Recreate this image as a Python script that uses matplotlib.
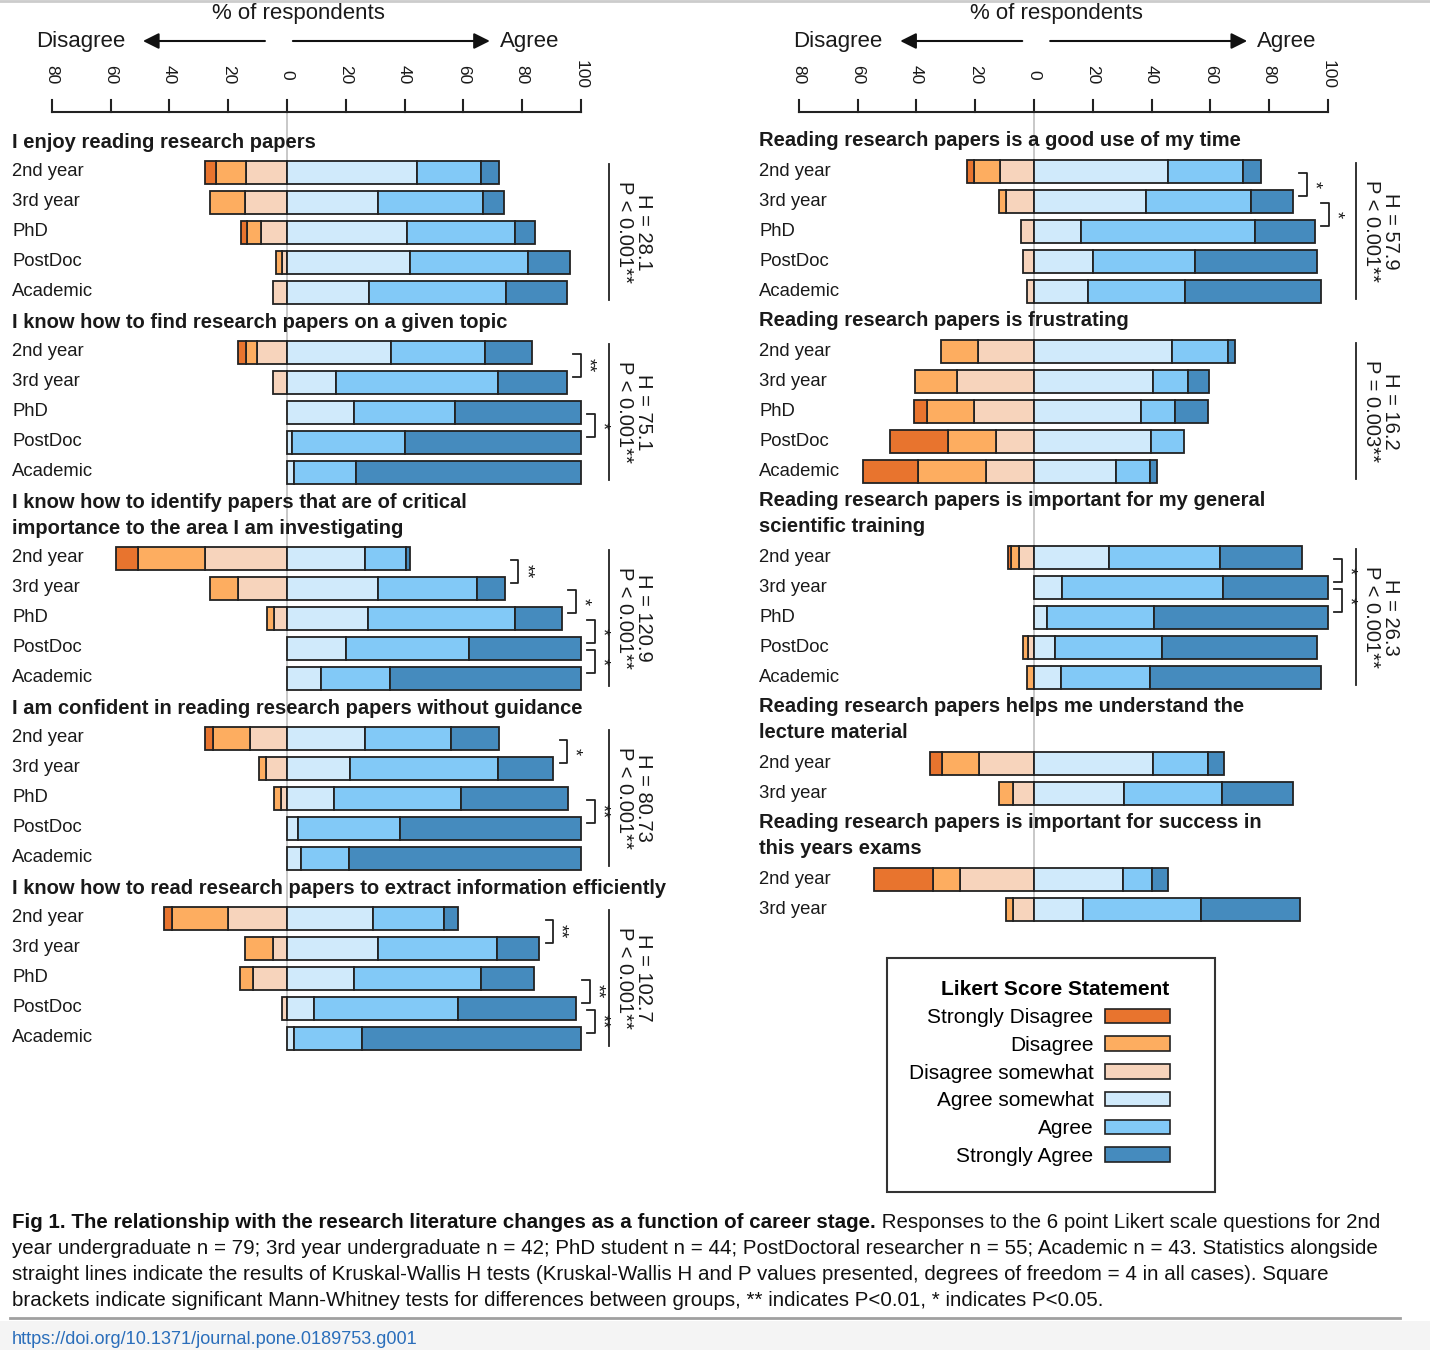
import numpy as np
import matplotlib.pyplot as plt
from matplotlib.patches import Patch, Rectangle
from matplotlib import font_manager

plt.rcParams['font.family'] = ['Liberation Sans', 'DejaVu Sans']

levels = ["Strongly Disagree", "Disagree", "Disagree somewhat",
          "Agree somewhat", "Agree", "Strongly Agree"]
colors = ["#e8742e", "#fdad60", "#f7d4bc", "#d0eafb", "#82c9f7", "#458bbe"]

groups5 = ["2nd year", "3rd year", "PhD", "PostDoc", "Academic"]
groups2 = ["2nd year", "3rd year"]

# % of respondents: SD, D, DS, AS, A, SA
enjoy = [[3.9, 10.1, 13.9, 44.3, 21.6, 6.2],
         [0, 12.0, 14.3, 31.0, 35.7, 7.0],
         [2.2, 4.6, 9.0, 40.9, 36.5, 6.8],
         [0, 2.0, 1.7, 41.9, 40.0, 14.4],
         [0, 0, 4.6, 27.8, 46.6, 21.0]]
find = [[2.6, 3.7, 10.3, 35.4, 31.9, 16.1],
        [0, 0, 4.8, 16.6, 55.1, 23.5],
        [0, 0, 0, 22.7, 34.3, 43.0],
        [0, 0, 0, 1.8, 38.2, 60.0],
        [0, 0, 0, 2.3, 21.0, 76.7]]
identify = [[7.7, 22.8, 27.8, 26.6, 13.8, 1.5],
            [0, 9.6, 16.6, 31.0, 33.5, 9.5],
            [0, 2.2, 4.5, 27.4, 50.2, 15.9],
            [0, 0, 0, 20.0, 42.0, 38.0],
            [0, 0, 0, 11.7, 23.2, 65.1]]
confident = [[2.7, 12.6, 12.7, 26.6, 29.1, 16.3],
             [0, 2.4, 7.1, 21.5, 50.1, 18.9],
             [0, 2.3, 2.2, 16.0, 43.1, 36.4],
             [0, 0, 0, 3.7, 34.6, 61.7],
             [0, 0, 0, 4.8, 16.2, 79.0]]
extract = [[2.6, 19.0, 20.1, 29.1, 24.2, 5.0],
           [0, 9.6, 4.6, 31.0, 40.5, 14.3],
           [0, 4.5, 11.4, 22.8, 43.1, 18.2],
           [0, 0, 1.7, 9.2, 49.1, 40.0],
           [0, 0, 0, 2.3, 23.3, 74.4]]
good_use = [[2.6, 8.9, 11.4, 45.7, 25.3, 6.1],
            [0, 2.4, 9.5, 38.1, 35.8, 14.2],
            [0, 0, 4.5, 15.9, 59.2, 20.4],
            [0, 0, 3.7, 20.0, 34.6, 41.7],
            [0, 0, 2.3, 18.4, 32.8, 46.5]]
frustrating = [[0, 12.6, 19.0, 46.9, 19.0, 2.5],
               [0, 14.3, 26.3, 40.5, 11.8, 7.1],
               [4.5, 16.0, 20.4, 36.3, 11.5, 11.3],
               [19.9, 16.4, 12.8, 39.9, 11.0, 0],
               [18.7, 23.3, 16.2, 27.8, 11.7, 2.3]]
training = [[1.2, 2.7, 5.0, 25.4, 38.0, 27.7],
            [0, 0, 0, 9.5, 54.8, 35.7],
            [0, 0, 0, 4.5, 36.4, 59.1],
            [0, 1.7, 2.0, 7.2, 36.5, 52.6],
            [0, 2.3, 0, 9.3, 30.2, 58.2]]
lecture = [[4.0, 12.6, 18.8, 40.4, 18.9, 5.3],
           [0, 4.6, 7.3, 30.7, 33.3, 24.1]]
exams = [[20.2, 9.0, 25.2, 30.3, 10.0, 5.3],
         [0, 2.4, 7.1, 16.6, 40.2, 33.7]]

left_titles = ["I enjoy reading research papers",
               "I know how to find research papers on a given topic",
               "I know how to identify papers that are of critical\nimportance to the area I am investigating",
               "I am confident in reading research papers without guidance",
               "I know how to read research papers to extract information efficiently"]
left_data = [enjoy, find, identify, confident, extract]
left_groups = [groups5, groups5, groups5, groups5, groups5]
left_kw = ["H = 28.1\nP < 0.001**", "H = 75.1\nP < 0.001**", "H = 120.9\nP < 0.001**",
           "H = 80.73\nP < 0.001**", "H = 102.7\nP < 0.001**"]
left_mw = [[], [(0, 1, "**"), (2, 3, "*")],
           [(0, 1, "**"), (1, 2, "*"), (2, 3, "*"), (3, 4, "*")],
           [(0, 1, "*"), (2, 3, "**")],
           [(0, 1, "**"), (2, 3, "**"), (3, 4, "**")]]

right_titles = ["Reading research papers is a good use of my time",
                "Reading research papers is frustrating",
                "Reading research papers is important for my general\nscientific training",
                "Reading research papers helps me understand the\nlecture material",
                "Reading research papers is important for success in\nthis years exams"]
right_data = [good_use, frustrating, training, lecture, exams]
right_groups = [groups5, groups5, groups5, groups2, groups2]
right_kw = ["H = 57.9\nP < 0.001**", "H = 16.2\nP = 0.003**", "H = 26.3\nP < 0.001**", None, None]
right_mw = [[(0, 1, "*"), (1, 2, "*")], [], [(0, 1, "*"), (1, 2, "*")], [], []]

W, H = 1430, 1350
PX = 2.94  # pixels per percent
ink = "#1a1a1a"

fig = plt.figure(figsize=(W / 100, H / 100), dpi=100)


def draw_panel(ax, x0, xz, titles, datasets, groups, kws, mws, y_start, hs):
    ax.set_xlim((x0 - xz) / PX, (x0 + W / 2 - xz) / PX)
    ax.set_ylim(H, 0)
    ax.axis("off")

    # header
    ax.text(4 + hs, 13, "% of respondents", ha="center", va="center", fontsize=16, color=ink)
    ax.text(-55 + hs, 41, "Disagree", ha="right", va="center", fontsize=16, color=ink)
    ax.text(72.5 + hs, 41, "Agree", ha="left", va="center", fontsize=16, color=ink)
    arrow = dict(arrowstyle="-|>", mutation_scale=24, lw=1.5, color="#111", shrinkA=0, shrinkB=0)
    ax.annotate("", xy=(-49 + hs, 41), xytext=(-7.5 + hs, 41), arrowprops=arrow)
    ax.annotate("", xy=(69 + hs, 41), xytext=(2 + hs, 41), arrowprops=arrow)

    ticks = np.arange(-80, 101, 20)
    ax.plot([-80, 100], [112, 112], color="#222", lw=1.5)
    for t in ticks:
        ax.plot([t, t], [100, 112], color="#222", lw=1.5)
        ax.text(t, 75, str(abs(t)), rotation=-90, ha="center", va="center", fontsize=12.5, color=ink)

    y = y_start
    last_row = y
    for title, data, grp, kw, mw in zip(titles, datasets, groups, kws, mws):
        lines = title.split("\n")
        for k, line in enumerate(lines):
            ax.text(-93.5, y + 26 * k, line, fontsize=14.5, fontweight="bold",
                    ha="left", va="center", color=ink)
        rows = [y + 26 * (len(lines) - 1) + 30 + 30 * i for i in range(len(grp))]
        for r, lab, vals in zip(rows, grp, data):
            ax.text(-93.5, r, lab, fontsize=13.3, ha="left", va="center", color=ink)
            cum = 0
            for v, c in zip(vals[2::-1], colors[2::-1]):
                if v > 0:
                    ax.barh(r, -v, left=-cum, height=23, color=c, edgecolor="#222", lw=1.3, zorder=2)
                cum += v
            cum = 0
            for v, c in zip(vals[3:], colors[3:]):
                if v > 0:
                    ax.barh(r, v, left=cum, height=23, color=c, edgecolor="#222", lw=1.3, zorder=2)
                cum += v
        if kw:
            ax.plot([109.5, 109.5], [rows[0] - 8, rows[-1] + 8], color="#222", lw=1.3)
            ax.text(118, np.mean(rows), kw, rotation=-90, ha="center", va="center",
                    fontsize=14.5, linespacing=1.0, color=ink)
        for i, j, s in mw:
            xe = max(sum(data[i][3:]), sum(data[j][3:]))
            xa, xb = xe + 2.2, xe + 4.7
            ya, yb = rows[i] + 2, rows[j] - 5
            ax.plot([xa, xb, xb, xa], [ya, ya, yb, yb], color="#222", lw=1.3)
            ax.text(xb + 2.4, (ya + yb) / 2, s, rotation=-90, ha="center", va="center",
                    fontsize=13, color=ink)
        last_row = rows[-1]
        y = rows[-1] + 30
    ax.plot([0, 0], [112, last_row + 12], color="#c4c4c4", lw=1.3, zorder=0)


ax_l = fig.add_axes([0, 0, 0.5, 1])
ax_r = fig.add_axes([0.5, 0, 0.5, 1])
draw_panel(ax_l, 0, 287, left_titles, left_data, left_groups, left_kw, left_mw, 142, 0)
draw_panel(ax_r, W / 2, 1034, right_titles, right_data, right_groups, right_kw, right_mw, 141, 3.5)

# legend
handles = [Patch(facecolor=c, edgecolor="#222", lw=1.2) for c in colors]
fig.add_artist(Rectangle((887 / W, 1 - 1192 / H), (1215 - 887) / W, (1192 - 958) / H,
                         transform=fig.transFigure, fill=False, edgecolor="#333", lw=1.5))
fig.legend(handles, levels, loc="upper right", bbox_to_anchor=(1180 / W, 1 - 970 / H),
           frameon=False, markerfirst=False, title="Likert Score Statement",
           title_fontproperties={"weight": "bold", "size": 15}, fontsize=15,
           handlelength=3.1, handleheight=0.7, handletextpad=0.55, labelspacing=0.42,
           borderpad=0, alignment="right")

# caption
try:
    font_manager.findfont(font_manager.FontProperties(family="Liberation Sans Narrow"),
                          fallback_to_default=False)
    cap_font = ["Liberation Sans Narrow", "DejaVu Sans"]
except Exception:
    cap_font = ["Liberation Sans", "DejaVu Sans"]

cap_bold = "Fig 1. The relationship with the research literature changes as a function of career stage."
cap_lines = [" Responses to the 6 point Likert scale questions for 2nd",
             "year undergraduate n = 79; 3rd year undergraduate n = 42; PhD student n = 44; PostDoctoral researcher n = 55; Academic n = 43. Statistics alongside",
             "straight lines indicate the results of Kruskal-Wallis H tests (Kruskal-Wallis H and P values presented, degrees of freedom = 4 in all cases). Square",
             "brackets indicate significant Mann-Whitney tests for differences between groups, ** indicates P<0.01, * indicates P<0.05."]
cap_y = [1223, 1249, 1274, 1300]

renderer = fig.canvas.get_renderer()
probe = fig.text(0, 0, cap_lines[1], family=cap_font, fontsize=14)
wprobe = probe.get_window_extent(renderer).width
probe.remove()
cap_size = 14 * 1374 / wprobe

tb = fig.text(12 / W, 1 - cap_y[0] / H, cap_bold, family=cap_font, fontsize=cap_size,
              fontweight="bold", va="center", ha="left", color="#111")
bx = tb.get_window_extent(renderer).x1
fig.text(bx / W, 1 - cap_y[0] / H, cap_lines[0], family=cap_font, fontsize=cap_size,
         va="center", ha="left", color="#111")
for line, yy in zip(cap_lines[1:], cap_y[1:]):
    fig.text(12 / W, 1 - yy / H, line, family=cap_font, fontsize=cap_size,
             va="center", ha="left", color="#111")

# footer
fig.add_artist(Rectangle((0, 0), 1, (H - 1321) / H, transform=fig.transFigure,
                         facecolor="#f4f4f4", edgecolor="none", zorder=0))
fig.add_artist(plt.Line2D([10 / W, 1400 / W], [1 - 1318 / H] * 2, transform=fig.transFigure,
                          color="#a0a0a0", lw=2))
fig.add_artist(plt.Line2D([0, 1], [1 - 1 / H] * 2, transform=fig.transFigure,
                          color="#cccccc", lw=2))
doi = "https://doi.org/10.1371/journal.pone.0189753.g001"
probe = fig.text(0, 0, doi, family=cap_font, fontsize=14)
wd = probe.get_window_extent(renderer).width
probe.remove()
fig.text(12 / W, 1 - 1340 / H, doi, family=cap_font, fontsize=14 * 408 / wd,
         va="center", ha="left", color="#2a6ebb")

fig.savefig("out.png", dpi=100)
